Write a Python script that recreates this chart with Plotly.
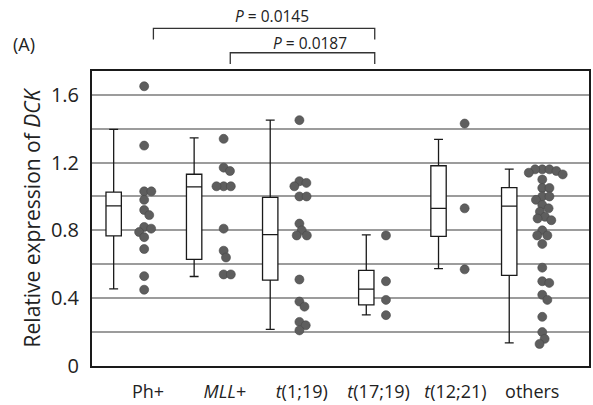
import math
import plotly.graph_objects as go

# ---------------- data ----------------
categories = ["Ph+", "MLL+", "t(1;19)", "t(17;19)", "t(12;21)", "others"]
tick_labels = ["Ph+", "<i>MLL</i>+", "<i>t</i>(1;19)", "<i>t</i>(17;19)", "<i>t</i>(12;21)", "others"]

ph_values = [1.65, 1.30, 1.03, 1.03, 0.98, 0.92, 0.89, 0.82, 0.81, 0.79, 0.76, 0.69, 0.53, 0.45]
mll_values = [1.34, 1.17, 1.15, 1.06, 1.06, 1.06, 0.81, 0.68, 0.64, 0.54, 0.54]
t119_values = [1.45, 1.09, 1.08, 1.06, 1.00, 1.00, 0.84, 0.80, 0.77, 0.77, 0.51, 0.38, 0.35, 0.26, 0.24, 0.21]
t1719_values = [0.77, 0.50, 0.39, 0.30]
t1221_values = [1.43, 0.93, 0.57]
others_values = [1.16, 1.16, 1.16, 1.15, 1.14, 1.13, 1.10, 1.05, 1.05, 1.00, 1.00, 0.98, 0.95, 0.93,
                 0.91, 0.88, 0.87, 0.86, 0.80, 0.77, 0.77, 0.72, 0.58, 0.50, 0.49, 0.42, 0.39, 0.29,
                 0.20, 0.16, 0.13]
group_values = [ph_values, mll_values, t119_values, t1719_values, t1221_values, others_values]

box_q1 = [0.767, 0.629, 0.506, 0.360, 0.765, 0.534]
box_median = [0.945, 1.056, 0.775, 0.453, 0.930, 0.943]
box_q3 = [1.025, 1.131, 0.995, 0.564, 1.181, 1.052]
box_lower = [0.455, 0.528, 0.216, 0.301, 0.574, 0.136]
box_upper = [1.396, 1.345, 1.450, 0.773, 1.337, 1.161]

comparisons = [(0, 3, "0.0145"), (1, 3, "0.0187")]

y_ticks = [0, 0.2, 0.4, 0.6, 0.8, 1.0, 1.2, 1.4, 1.6]
y_tick_text = ["0", "", "0.4", "", "0.8", "", "1.2", "", "1.6"]

# ---------------- layout constants ----------------
W, H = 593, 405
ML, MR, MT, MB = 92, 2, 71, 38
X_RANGE = [-0.729, 5.738]
Y_RANGE = [0, 1.74]
box_offset = [-0.447, -0.40, -0.41, -0.16, -0.22, -0.30]
dot_offset = [-0.05, -0.016, -0.03, 0.096, 0.12, 0.13]
DOT = 9.0
SWARM_GAP = 7.2

plot_w = W - ML - MR
plot_h = H - MT - MB
px_per_x = plot_w / (X_RANGE[1] - X_RANGE[0])
px_per_y = plot_h / (Y_RANGE[1] - Y_RANGE[0])


def beeswarm(vals, d):
    """Greedy beeswarm: returns horizontal pixel offsets."""
    order = sorted(range(len(vals)), key=lambda i: -vals[i])
    placed = []
    offs = [0.0] * len(vals)
    for i in order:
        y = vals[i] * px_per_y
        cands = [0.0]
        for (xj, yj) in placed:
            dy = abs(y - yj)
            if dy < d:
                dx = math.sqrt(d * d - dy * dy)
                cands += [xj + dx, xj - dx]
        cands.sort(key=lambda c: (abs(c), -c))
        for c in cands:
            if all((c - xj) ** 2 + (y - yj) ** 2 >= d * d - 1e-6 for (xj, yj) in placed):
                offs[i] = c
                placed.append((c, y))
                break
    return offs


fig = go.Figure()

for i, cat in enumerate(categories):
    fig.add_trace(go.Box(
        x=[i + box_offset[i]], q1=[box_q1[i]], median=[box_median[i]], q3=[box_q3[i]],
        lowerfence=[box_lower[i]], upperfence=[box_upper[i]],
        width=0.2, whiskerwidth=0.58, boxpoints=False,
        fillcolor="white", line=dict(color="#1a1a1a", width=1.3),
        name=cat, showlegend=False, hoverinfo="skip",
    ))

for i, vals in enumerate(group_values):
    offs = beeswarm(vals, SWARM_GAP)
    xs = [i + dot_offset[i] + o / px_per_x for o in offs]
    fig.add_trace(go.Scatter(
        x=xs, y=vals, mode="markers",
        marker=dict(size=DOT, color="#5e5e5e", line=dict(color="#484848", width=0.6)),
        showlegend=False, hoverinfo="skip",
    ))


def px_to_paper_x(px):
    return (px - ML) / plot_w


def px_to_paper_y(py):
    return (H - MB - py) / plot_h


def xdata_to_paper(x):
    return (x - X_RANGE[0]) / (X_RANGE[1] - X_RANGE[0])


shapes = []
annotations = []
bracket_rows = [(28.3, 39.3, 16.0), (52.7, 64.0, 42.7)]
for (a, b, p), (yl, yt, ytext) in zip(comparisons, bracket_rows):
    xa = xdata_to_paper(a + 0.07)
    xb = xdata_to_paper(b - 0.05)
    ylp, ytp = px_to_paper_y(yl), px_to_paper_y(yt)
    line = dict(color="#333333", width=1.3)
    shapes.append(dict(type="path", xref="paper", yref="paper",
                       path=f"M {xa} {ytp} L {xa} {ylp} L {xb} {ylp} L {xb} {ytp}",
                       line=line))
    annotations.append(dict(xref="paper", yref="paper",
                            x=(xa + xb) / 2 + 7.5 / plot_w, y=px_to_paper_y(ytext),
                            text=f"<i>P</i> = {p}", showarrow=False,
                            xanchor="center", yanchor="middle",
                            font=dict(size=15.5, color="#222222", family="Open Sans")))

annotations.append(dict(xref="paper", yref="paper", x=px_to_paper_x(24), y=px_to_paper_y(44),
                        text="(A)", showarrow=False, xanchor="center", yanchor="middle",
                        font=dict(size=18, color="#222222", family="Open Sans")))

fig.update_layout(
    width=W, height=H,
    margin=dict(l=ML, r=MR, t=MT, b=MB),
    paper_bgcolor="white", plot_bgcolor="white",
    shapes=shapes, annotations=annotations,
    font=dict(family="Open Sans", color="#222222"),
    xaxis=dict(range=X_RANGE, tickvals=list(range(len(categories))), ticktext=tick_labels,
               showgrid=False, zeroline=False, showline=True, mirror=True,
               linecolor="#1a1a1a", linewidth=2, ticks="outside", ticklen=8,
               tickcolor="rgba(0,0,0,0)", tickfont=dict(size=18, color="#222222")),
    yaxis=dict(range=Y_RANGE, tickvals=y_ticks, ticktext=y_tick_text,
               showgrid=True, gridcolor="#9c9c9c", gridwidth=1.8, zeroline=False,
               showline=True, mirror=True, linecolor="#1a1a1a", linewidth=2,
               ticks="outside", ticklen=7, tickcolor="rgba(0,0,0,0)",
               tickfont=dict(size=20, color="#222222"),
               title=dict(text="Relative expression of <i>DCK</i>", standoff=5,
                          font=dict(size=21, color="#222222"))),
)

fig.write_html("out.html")
